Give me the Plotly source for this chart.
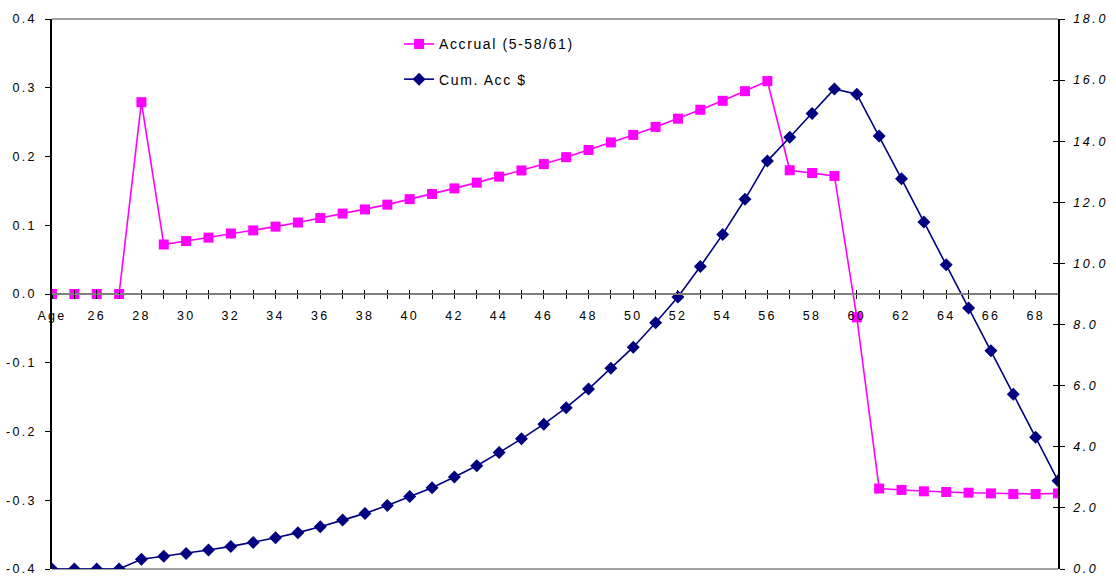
import plotly.graph_objects as go

# Ages on the category axis (first tick reads "Age")
ages = list(range(24, 70))
x_labels = ["Age" if a == 24 else (str(a) if a % 2 == 0 else "") for a in ages]

# Annual accrual rate (left axis)
accrual = [0.0, 0.0, 0.0, 0.0, 0.279, 0.072, 0.077, 0.082, 0.088, 0.0925,
           0.098, 0.104, 0.1105, 0.117, 0.123, 0.130, 0.138, 0.1455, 0.1536, 0.162,
           0.1707, 0.1797, 0.189, 0.199, 0.2095, 0.2205, 0.2314, 0.243, 0.255, 0.268,
           0.281, 0.295, 0.3097, 0.180, 0.176, 0.1717, -0.034, -0.283, -0.285, -0.287,
           -0.288, -0.289, -0.290, -0.291, -0.291, -0.290]

# Cumulative accrued dollars (right axis)
cum_acc = [0.0, 0.0, 0.0, 0.0, 0.32, 0.42, 0.51, 0.62, 0.74, 0.87,
           1.02, 1.19, 1.38, 1.60, 1.82, 2.08, 2.37, 2.66, 3.01, 3.38,
           3.81, 4.26, 4.74, 5.28, 5.89, 6.57, 7.26, 8.06, 8.90, 9.90,
           10.95, 12.10, 13.35, 14.13, 14.91, 15.71, 15.54, 14.17, 12.77, 11.36,
           9.96, 8.54, 7.14, 5.72, 4.31, 2.89]

left_ticks = [-0.4, -0.3, -0.2, -0.1, 0.0, 0.1, 0.2, 0.3, 0.4]
left_ticktext = [f"{v:.1f}" for v in left_ticks]
right_ticks = [0, 2, 4, 6, 8, 10, 12, 14, 16, 18]
right_ticktext = [f"{v:.1f}" for v in right_ticks]

PINK = "#FF00FF"
NAVY = "#000080"
FONT = "Liberation Sans, Arial, sans-serif"

fig = go.Figure()

fig.add_trace(go.Scatter(
    x=ages, y=accrual, name="Accrual (5-58/61)", mode="lines+markers",
    line=dict(color=PINK, width=1.6),
    marker=dict(symbol="square", size=10, color=PINK),
    legendgroup="a", xaxis="x", yaxis="y",
))
fig.add_trace(go.Scatter(
    x=ages, y=cum_acc, name="Cum. Acc $", mode="lines+markers",
    line=dict(color=NAVY, width=1.6),
    marker=dict(symbol="diamond", size=10, color=NAVY),
    legendgroup="b", xaxis="x", yaxis="y2",
))

xr = [24, 69]

fig.update_layout(
    width=1116, height=588,
    margin=dict(l=52, r=58, t=14, b=12),
    paper_bgcolor="white", plot_bgcolor="white",
    font=dict(family=FONT, size=12.5, color="#000000"),
    showlegend=True,
    legend=dict(x=0.345, y=0.983, xanchor="left", yanchor="top",
                bgcolor="rgba(0,0,0,0)", tracegroupgap=14,
                font=dict(family=FONT, size=14), itemwidth=30),
    # category axis crossing the left axis at 0.0
    xaxis=dict(range=xr, anchor="free", position=0.5,
               tickvals=ages, ticktext=x_labels, ticks="outside", ticklen=4,
               tickcolor="#000000", showline=True, linecolor="#808080", linewidth=2,
               showgrid=False, zeroline=False, tickfont=dict(size=12.5), ticklabelstandoff=6),
    # inside half of the crossing tick marks on the category axis
    xaxis2=dict(range=xr, anchor="free", position=0.5, overlaying="x",
                tickvals=ages, ticktext=[""] * len(ages), ticks="inside", ticklen=4,
                tickcolor="#000000", showline=False, showgrid=False, zeroline=False),
    yaxis=dict(range=[-0.4, 0.4], tickvals=left_ticks, ticktext=left_ticktext,
               ticks="outside", ticklen=5, tickcolor="#000000",
               showline=True, linecolor="#000000", linewidth=1.5,
               showgrid=False, zeroline=False, tickfont=dict(size=12.5),
               ticklabelstandoff=6),
    yaxis2=dict(range=[0, 18], overlaying="y", side="right", anchor="x",
                tickvals=right_ticks, ticktext=right_ticktext,
                ticks="outside", ticklen=5, tickcolor="#000000",
                showline=True, linecolor="#000000", linewidth=1.5,
                showgrid=False, zeroline=False, ticklabelstandoff=6,
                tickfont=dict(size=12.5, style="italic")),
    yaxis3=dict(range=[0, 18], overlaying="y", side="right", anchor="x",
                tickvals=right_ticks, ticktext=[""] * len(right_ticks),
                ticks="inside", ticklen=5, tickcolor="#000000",
                showline=False, showgrid=False, zeroline=False),
    shapes=[
        dict(type="line", xref="paper", yref="paper", x0=0, x1=1, y0=1, y1=1,
             line=dict(color="#808080", width=1.5), layer="below"),
        dict(type="line", xref="paper", yref="paper", x0=0, x1=1, y0=0, y1=0,
             line=dict(color="#808080", width=1.5), layer="below"),
    ],
)

# Dummy traces so the overlay axes get drawn
fig.add_trace(go.Scatter(x=[None], y=[None], xaxis="x2", yaxis="y", showlegend=False, hoverinfo="skip"))
fig.add_trace(go.Scatter(x=[None], y=[None], xaxis="x", yaxis="y3", showlegend=False, hoverinfo="skip"))

# Wide letter spacing for the axis and legend text
spacing_js = """
var gd = document.getElementById('{plot_id}');
gd.querySelectorAll('.xtick text, .ytick text').forEach(function(t){ t.style.letterSpacing = '2.3px'; });
gd.querySelectorAll('.y2tick text').forEach(function(t){ t.style.letterSpacing = '2.6px'; });
gd.querySelectorAll('.legend [clip-path]').forEach(function(e){ e.removeAttribute('clip-path'); });
gd.querySelectorAll('.legendtext').forEach(function(t){ t.style.letterSpacing = '1.6px'; });
"""

fig.write_html("out.html", post_script=spacing_js)
